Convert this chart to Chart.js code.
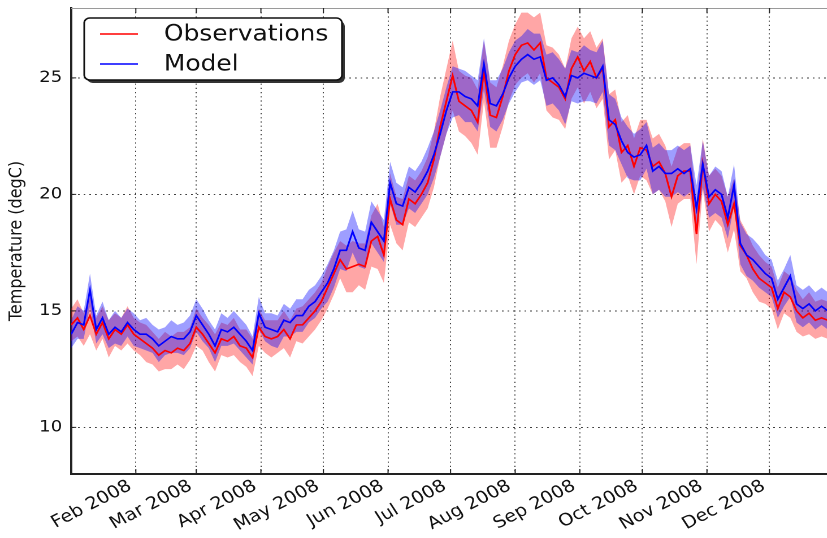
<!DOCTYPE html>
<html>
<head>
<meta charset="utf-8">
<title>Temperature 2008 - Observations vs Model</title>
<script src="https://cdn.jsdelivr.net/npm/chart.js@4.4.1/dist/chart.umd.min.js"></script>
<style>
  html, body { margin: 0; padding: 0; background: #fff; overflow: hidden; }
  canvas { display: block; }
</style>
</head>
<body>
<!-- drawn at 736 wide, shown 832 wide (figure is stretched horizontally) -->
<canvas id="tempChart" width="736" height="538" style="width:832px;height:538px"></canvas>
<script>
/* daily temperature, 2008: observations vs model, with spread bands */

// sampling: one value every 3 days from Jan 1 (day 0)
const STEP_DAYS = 3;

// month ticks (day of year, 0 = Jan 1) and their labels
const monthStart = [31, 60, 91, 121, 152, 182, 213, 244, 274, 305, 335];
const monthLabels = ['Feb 2008', 'Mar 2008', 'Apr 2008', 'May 2008', 'Jun 2008', 'Jul 2008',
                     'Aug 2008', 'Sep 2008', 'Oct 2008', 'Nov 2008', 'Dec 2008'];
const yTicks = [10, 15, 20, 25];

// observed temperature (degC)
const obsTemp = [
  14.4, 14.7, 14.2, 14.8, 14.0, 14.5, 13.8, 14.2, 14.0, 14.4,
  14.0, 13.8, 13.6, 13.4, 13.1, 13.3, 13.2, 13.4, 13.3, 13.6,
  14.3, 14.0, 13.6, 13.2, 13.8, 13.7, 13.9, 13.5, 13.4, 13.0,
  14.3, 13.9, 13.8, 13.9, 14.2, 13.8, 14.4, 14.4, 14.7, 15.0,
  15.4, 16.0, 16.6, 17.2, 16.8, 16.9, 17.0, 16.9, 18.0, 18.2,
  17.4, 19.8, 18.9, 18.7, 19.8, 19.6, 20.0, 20.5, 21.5, 22.9,
  24.0, 25.1, 24.0, 23.8, 23.6, 23.1, 25.3, 23.4, 23.3, 24.2,
  25.3, 26.0, 26.4, 26.5, 26.2, 26.5, 25.0, 24.8, 24.6, 24.1,
  25.4, 25.9, 25.3, 25.7, 25.0, 25.4, 22.9, 23.2, 21.8, 22.1,
  21.2, 22.0, 21.9, 21.2, 21.4, 20.9, 19.9, 20.8, 21.0, 21.0,
  18.3, 21.3, 19.6, 20.0, 19.7, 18.7, 19.6, 17.8, 17.4, 16.8,
  16.4, 16.2, 16.0, 15.1, 15.8, 15.6, 15.0, 14.7, 14.9, 14.6,
  14.7, 14.6
];

// half-width of the observation band
const obsSpread = [
  0.7, 0.8, 0.7, 0.8, 0.7, 0.7, 0.8, 0.7, 0.7, 0.8,
  0.7, 0.7, 0.8, 0.7, 0.7, 0.8, 0.7, 0.7, 0.8, 0.7,
  0.8, 0.7, 0.8, 0.8, 0.7, 0.7, 0.8, 0.7, 0.8, 0.8,
  0.8, 0.7, 0.8, 0.7, 0.8, 0.8, 0.7, 0.8, 0.8, 0.8,
  0.8, 0.9, 0.9, 0.8, 1.0, 1.1, 0.9, 1.0, 1.1, 1.4,
  1.2, 1.1, 1.0, 1.1, 1.0, 1.0, 1.0, 1.1, 1.2, 1.3,
  1.4, 1.5, 1.3, 1.3, 1.4, 1.4, 1.3, 1.4, 1.3, 1.3,
  1.3, 1.3, 1.4, 1.3, 1.4, 1.3, 1.4, 1.5, 1.4, 1.3,
  1.3, 1.3, 1.4, 1.3, 1.3, 1.3, 1.4, 1.3, 1.3, 1.3,
  1.2, 1.2, 1.3, 1.2, 1.2, 1.2, 1.3, 1.2, 1.2, 1.2,
  1.3, 1.1, 1.2, 1.1, 1.1, 1.2, 1.1, 1.1, 1.0, 1.0,
  1.0, 0.9, 0.9, 0.9, 0.9, 0.9, 0.9, 0.8, 0.9, 0.8,
  0.8, 0.8
];

// modelled temperature (degC)
const modelTemp = [
  14.0, 14.5, 14.4, 15.9, 14.2, 14.7, 14.0, 14.3, 14.1, 14.5,
  14.2, 14.0, 14.0, 13.8, 13.5, 13.7, 13.9, 13.8, 13.8, 14.1,
  14.8, 14.4, 14.0, 13.5, 14.2, 14.1, 14.3, 14.0, 13.7, 13.3,
  14.9, 14.3, 14.2, 14.1, 14.6, 14.5, 14.8, 14.8, 15.2, 15.4,
  15.8, 16.2, 16.8, 17.6, 17.6, 18.4, 17.7, 17.6, 18.8, 18.4,
  18.0, 20.5, 19.6, 19.5, 20.3, 20.1, 20.5, 21.0, 21.7, 22.6,
  23.6, 24.4, 24.4, 24.2, 24.1, 23.8, 25.6, 23.9, 23.8, 24.3,
  25.0, 25.5, 25.8, 26.0, 25.8, 25.9, 24.9, 25.0, 24.7, 24.2,
  25.1, 25.0, 25.2, 25.1, 25.0, 25.5, 23.2, 23.0, 22.3, 21.8,
  21.6, 21.7, 22.1, 21.0, 21.2, 20.9, 20.9, 21.1, 20.9, 21.1,
  19.4, 21.3, 19.9, 20.2, 20.0, 19.0, 20.4, 17.9, 17.4, 17.2,
  16.9, 16.6, 16.4, 15.5, 16.0, 16.5, 15.3, 15.1, 15.3, 15.0,
  15.2, 15.0
];

// half-width of the model band
const modelSpread = [
  0.6, 0.7, 0.6, 0.7, 0.6, 0.7, 0.6, 0.7, 0.6, 0.6,
  0.7, 0.6, 0.7, 0.6, 0.7, 0.6, 0.7, 0.6, 0.7, 0.7,
  0.7, 0.7, 0.6, 0.7, 0.7, 0.6, 0.7, 0.7, 0.7, 0.6,
  0.7, 0.6, 0.7, 0.7, 0.7, 0.6, 0.7, 0.7, 0.7, 0.7,
  0.7, 0.8, 0.8, 0.8, 0.9, 0.9, 0.8, 0.8, 0.9, 0.9,
  0.9, 0.9, 0.9, 0.8, 0.9, 0.9, 0.9, 1.0, 1.0, 1.0,
  1.0, 1.1, 1.0, 1.1, 1.0, 1.1, 1.1, 1.0, 1.1, 1.1,
  1.1, 1.1, 1.0, 1.1, 1.1, 1.0, 1.1, 1.1, 1.1, 1.2,
  1.1, 1.1, 1.2, 1.1, 1.1, 1.1, 1.1, 1.1, 1.0, 1.1,
  1.0, 1.1, 1.0, 1.0, 1.0, 1.0, 1.0, 1.0, 1.0, 1.0,
  1.0, 1.0, 0.9, 1.0, 1.0, 0.9, 0.9, 0.9, 0.9, 0.9,
  0.9, 0.8, 0.8, 0.8, 0.8, 0.9, 0.8, 0.8, 0.8, 0.8,
  0.8, 0.8
];

const RED = '#ff0000';
const BLUE = '#0000ff';
const FONT = "'DejaVu Sans', sans-serif";

const pts = (vals, off, sign) => vals.map((v, i) => ({ x: i * STEP_DAYS, y: off ? v + sign * off[i] : v }));

const band = (data, fill, color, order) => ({
  data, fill, order,
  backgroundColor: color,
  borderWidth: 0,
  pointRadius: 0,
  tension: 0
});

const line = (label, data, color, order) => ({
  label, data, order,
  borderColor: color,
  borderWidth: 1.6,
  pointRadius: 0,
  fill: false,
  tension: 0
});

// legend box, y title, inward tick marks and top spine (matplotlib-style frame)
const frameAndLegend = {
  id: 'frameAndLegend',
  afterDraw(chart) {
    const { ctx, chartArea: a, scales: { x, y } } = chart;
    ctx.save();

    ctx.strokeStyle = '#9a9a9a';
    ctx.lineWidth = 1;
    ctx.beginPath();
    ctx.moveTo(a.left, a.top + 0.5);
    ctx.lineTo(a.right, a.top + 0.5);
    ctx.stroke();

    ctx.strokeStyle = '#222';
    ctx.beginPath();
    monthStart.forEach(d => {
      const px = x.getPixelForValue(d);
      ctx.moveTo(px, a.bottom); ctx.lineTo(px, a.bottom - 5);
      ctx.moveTo(px, a.top); ctx.lineTo(px, a.top + 5);
    });
    yTicks.forEach(v => {
      const py = y.getPixelForValue(v);
      ctx.moveTo(a.left, py); ctx.lineTo(a.left + 4.5, py);
    });
    ctx.stroke();

    // y axis title
    ctx.save();
    ctx.translate(15, (a.top + a.bottom) / 2);
    ctx.rotate(-Math.PI / 2);
    ctx.font = '16px ' + FONT;
    ctx.fillStyle = '#111';
    ctx.textAlign = 'center';
    ctx.textBaseline = 'middle';
    ctx.fillText('Temperature (degC)', 0, 0);
    ctx.restore();

    // legend
    const bx = 74.5, by = 18, bw = 228, bh = 62;
    ctx.fillStyle = '#333';
    ctx.beginPath(); ctx.roundRect(bx + 2.5, by + 3, bw, bh, 5); ctx.fill();
    ctx.fillStyle = '#fff';
    ctx.strokeStyle = '#111';
    ctx.lineWidth = 1.5;
    ctx.beginPath(); ctx.roundRect(bx, by, bw, bh, 5); ctx.fill(); ctx.stroke();

    const entries = [['Observations', RED, 34], ['Model', BLUE, 64]];
    ctx.font = '22px ' + FONT;
    ctx.textBaseline = 'middle';
    entries.forEach(([txt, col, ly]) => {
      ctx.strokeStyle = col;
      ctx.lineWidth = 1.6;
      ctx.beginPath(); ctx.moveTo(88.5, ly); ctx.lineTo(122, ly); ctx.stroke();
      ctx.fillStyle = '#111';
      ctx.fillText(txt, 145, ly + 1);
    });
    ctx.restore();
  }
};

new Chart(document.getElementById('tempChart'), {
  type: 'line',
  data: {
    datasets: [
      band(pts(obsTemp, obsSpread, 1), false, 'transparent', 6),
      band(pts(obsTemp, obsSpread, -1), 0, 'rgba(255,0,0,0.35)', 5),
      band(pts(modelTemp, modelSpread, 1), false, 'transparent', 4),
      band(pts(modelTemp, modelSpread, -1), 2, 'rgba(0,0,255,0.38)', 3),
      line('Observations', pts(obsTemp), RED, 2),
      line('Model', pts(modelTemp), BLUE, 1)
    ]
  },
  options: {
    responsive: false,
    devicePixelRatio: 2,
    animation: false,
    events: [],
    layout: { padding: { top: 8, right: 0, bottom: 0, left: 0 } },
    plugins: { legend: { display: false }, tooltip: { enabled: false } },
    scales: {
      x: {
        type: 'linear',
        min: 0,
        max: 365,
        afterFit: s => { s.height = 64; s.paddingLeft = 0; s.paddingRight = 0; },
        afterBuildTicks: s => { s.ticks = monthStart.map(v => ({ value: v })); },
        ticks: {
          autoSkip: false,
          minRotation: 30,
          maxRotation: 30,
          padding: 2,
          labelOffset: -5,
          color: '#111',
          font: { family: FONT, size: 17 },
          callback: (v, i) => monthLabels[i]
        },
        grid: { color: 'rgba(0,0,0,0.75)', lineWidth: 1, drawTicks: false },
        border: { display: true, color: '#222', width: 2, dash: [1.2, 3] }
      },
      y: {
        type: 'linear',
        min: 8,
        max: 28,
        afterFit: s => { s.width = 63; s.paddingTop = 0; s.paddingBottom = 0; },
        afterBuildTicks: s => { s.ticks = yTicks.map(v => ({ value: v })); },
        ticks: {
          padding: 8,
          color: '#111',
          font: { family: FONT, size: 16 }
        },
        grid: { color: 'rgba(0,0,0,0.75)', lineWidth: 1, drawTicks: false },
        border: { display: true, color: '#222', width: 2, dash: [1.5, 3.5] }
      }
    }
  },
  plugins: [frameAndLegend]
});
</script>
</body>
</html>
